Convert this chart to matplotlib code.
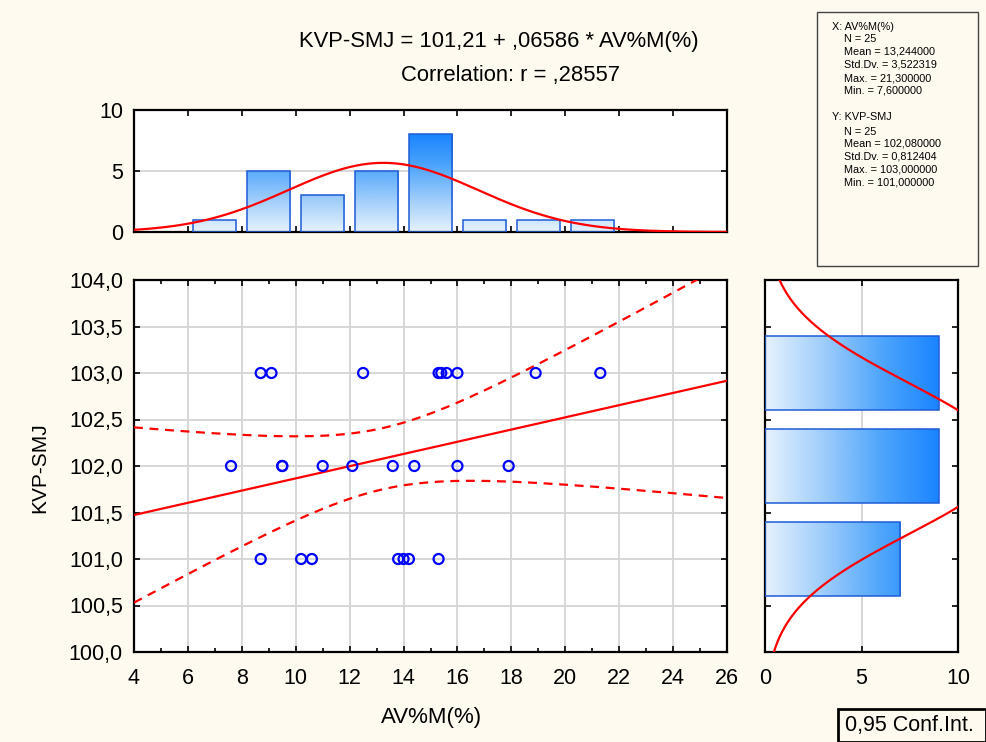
import numpy as np
import matplotlib
matplotlib.use('Agg')
import matplotlib.pyplot as plt
from matplotlib.colors import LinearSegmentedColormap
from matplotlib.patches import Rectangle
from matplotlib.ticker import MultipleLocator

# ---------------- data ----------------
x_y103 = [8.7, 9.1, 12.5, 15.3, 15.4, 15.6, 16.0, 18.9, 21.3]
x_y102 = [7.6, 9.5, 9.5, 11.0, 12.1, 13.6, 14.4, 16.0, 17.9]
x_y101 = [8.7, 10.2, 10.6, 13.8, 14.0, 14.2, 15.3]
y_levels = [103.0, 102.0, 101.0]

x_ticks = [4, 6, 8, 10, 12, 14, 16, 18, 20, 22, 24, 26]
y_ticks = [100.0, 100.5, 101.0, 101.5, 102.0, 102.5, 103.0, 103.5, 104.0]
x_bin_edges = [4, 6, 8, 10, 12, 14, 16, 18, 20, 22, 24, 26]
y_bin_edges = [100.5, 101.5, 102.5, 103.5]

title_line1 = "KVP-SMJ = 101,21 + ,06586 * AV%M(%)"
title_line2 = "Correlation: r = ,28557"
x_label = "AV%M(%)"
y_label = "KVP-SMJ"
stats_x = ["X: AV%M(%)", "N = 25", "Mean = 13,244000", "Std.Dv. = 3,522319",
           "Max. = 21,300000", "Min. = 7,600000"]
stats_y = ["Y: KVP-SMJ", "N = 25", "Mean = 102,080000", "Std.Dv. = 0,812404",
           "Max. = 103,000000", "Min. = 101,000000"]
legend_text = "0,95 Conf.Int."
t_crit = 2.0687  # t(0.975, df=23)

# -------------- derived ---------------
x = np.array(x_y103 + x_y102 + x_y101)
y = np.array([y_levels[0]] * len(x_y103) + [y_levels[1]] * len(x_y102) + [y_levels[2]] * len(x_y101))
n = len(x)
xm, ym = x.mean(), y.mean()
sx, sy = x.std(ddof=1), y.std(ddof=1)
slope, intercept = np.polyfit(x, y, 1)
resid = y - (intercept + slope * x)
s_res = np.sqrt((resid ** 2).sum() / (n - 2))
Sxx = ((x - xm) ** 2).sum()

xe = np.array(x_bin_edges, float)
x_counts = np.bincount(np.searchsorted(xe, x, side='left') - 1, minlength=len(xe) - 1)
ye = np.array(y_bin_edges, float)
y_counts = np.bincount(np.searchsorted(ye, y, side='left') - 1, minlength=len(ye) - 1)

# -------------- figure ----------------
W, H = 986, 742
BG = '#FEFAF0'
plt.rcParams['font.family'] = ['Liberation Sans', 'DejaVu Sans']
fig = plt.figure(figsize=(W / 100, H / 100), dpi=100, facecolor=BG)


def ax_rect(l, t, r, b):
    return [l / W, 1 - b / H, (r - l) / W, (b - t) / H]


def ftext(px, py, s, **kw):
    fig.text(px / W, 1 - py / H, s, **kw)


cmap = LinearSegmentedColormap.from_list('bl', ['#E6F2FE', '#9FCDFB', '#4FA6FB', '#1A84FF'])
edge_col = '#1E5CD6'
FS = 15.5


def style_box(ax):
    for sp in ax.spines.values():
        sp.set_linewidth(1.6)
        sp.set_color('black')
    ax.tick_params(direction='in', length=4, width=1.2, top=True, right=True,
                   labelsize=FS)
    ax.tick_params(axis='y', pad=8)
    ax.tick_params(axis='x', pad=11.5)


# ---- scatter ----
ax = fig.add_axes(ax_rect(134, 280, 727, 652))
style_box(ax)
ax.set_xlim(4, 26)
ax.set_ylim(100, 104)
ax.set_xticks(x_ticks)
ax.xaxis.set_minor_locator(MultipleLocator(1))
ax.tick_params(axis='x', which='minor', direction='in', length=3, width=1.2, top=True)
ax.set_yticks(y_ticks)
ax.set_yticklabels([f"{v:.1f}".replace('.', ',') for v in y_ticks])
ax.grid(True, which='major', color='#D4D4D4', lw=1.3)
ax.set_axisbelow(True)
xx = np.linspace(4, 26, 300)
yfit = intercept + slope * xx
half = t_crit * s_res * np.sqrt(1 / n + (xx - xm) ** 2 / Sxx)
ax.plot(xx, yfit, color='#FF0000', lw=1.6, zorder=3)
ax.plot(xx, yfit + half, color='#FF0000', lw=1.6, ls=(0, (4, 3)), zorder=3)
ax.plot(xx, yfit - half, color='#FF0000', lw=1.6, ls=(0, (4, 3)), zorder=3)
ax.scatter(x, y, s=52, facecolors='none', edgecolors='#0000FF', linewidths=1.6, zorder=4)

# ---- top histogram ----
axt = fig.add_axes(ax_rect(134, 110, 727, 232))
style_box(axt)
axt.set_xlim(4, 26)
axt.set_ylim(0, 10)
axt.set_xticks(x_ticks)
axt.set_xticklabels([])
axt.set_yticks([0, 5, 10])
axt.grid(True, axis='y', color='#D4D4D4', lw=1.3)
axt.set_axisbelow(True)
vmax_t = x_counts.max()
for i, c in enumerate(x_counts):
    if c == 0:
        continue
    w = 0.8 * (xe[i + 1] - xe[i])
    l = xe[i] + 0.1 * (xe[i + 1] - xe[i])
    grad = np.linspace(0, c / vmax_t, 200).reshape(-1, 1)
    im = axt.imshow(grad, cmap=cmap, vmin=0, vmax=1, origin='lower', aspect='auto',
                    extent=[l, l + w, 0, c], zorder=2)
    rect = Rectangle((l, 0), w, c, facecolor='none', edgecolor=edge_col, lw=1.1, zorder=3)
    axt.add_patch(rect)
    im.set_clip_path(rect)
axt.set_xlim(4, 26)
axt.set_ylim(0, 10)
xc = np.linspace(4, 26, 300)
pdf_x = n * 2 * np.exp(-0.5 * ((xc - xm) / sx) ** 2) / (sx * np.sqrt(2 * np.pi))
axt.plot(xc, pdf_x, color='#FF0000', lw=1.6, zorder=4)

# ---- right histogram ----
axr = fig.add_axes(ax_rect(765, 280, 958, 652))
style_box(axr)
axr.set_xlim(0, 10)
axr.set_ylim(100, 104)
axr.set_xticks([0, 5, 10])
axr.set_yticks(y_ticks)
axr.set_yticklabels([])
axr.grid(True, axis='x', color='#D4D4D4', lw=1.3)
axr.set_axisbelow(True)
vmax_r = y_counts.max()
for i, c in enumerate(y_counts):
    if c == 0:
        continue
    h = 0.8 * (ye[i + 1] - ye[i])
    b = ye[i] + 0.1 * (ye[i + 1] - ye[i])
    grad = np.linspace(0, c / vmax_r, 200).reshape(1, -1)
    im = axr.imshow(grad, cmap=cmap, vmin=0, vmax=1, origin='lower', aspect='auto',
                    extent=[0, c, b, b + h], zorder=2)
    rect = Rectangle((0, b), c, h, facecolor='none', edgecolor=edge_col, lw=1.1, zorder=3)
    axr.add_patch(rect)
    im.set_clip_path(rect)
axr.set_xlim(0, 10)
axr.set_ylim(100, 104)
yc = np.linspace(100, 104, 300)
pdf_y = n * 1 * np.exp(-0.5 * ((yc - ym) / sy) ** 2) / (sy * np.sqrt(2 * np.pi))
axr.plot(pdf_y, yc, color='#FF0000', lw=1.6, zorder=4)

# ---- texts ----
ftext(499, 42, title_line1, ha='center', va='center', fontsize=15.8)
ftext(511, 75, title_line2, ha='center', va='center', fontsize=15.8)
ftext(432, 718, x_label, ha='center', va='center', fontsize=16)
ftext(40, 468, y_label, ha='center', va='center', fontsize=15, rotation=90)

# stats box
fig.patches.append(Rectangle((817 / W, 1 - 266 / H), (978 - 817) / W, (266 - 12) / H,
                             transform=fig.transFigure, facecolor=BG, edgecolor='#444444',
                             lw=1.0, zorder=1))
ys = [26.7, 39, 51.7, 64.3, 78.3, 90.7]
for k, s in enumerate(stats_x):
    ftext(832 if k == 0 else 844, ys[k], s, ha='left', va='center', fontsize=7.8)
ys2 = [117.3, 131.7, 144, 156.7, 170, 182.7]
for k, s in enumerate(stats_y):
    ftext(832 if k == 0 else 844, ys2[k], s, ha='left', va='center', fontsize=7.8)

# legend box
fig.patches.append(Rectangle((838 / W, 0), (986 - 838) / W, (742 - 709) / H,
                             transform=fig.transFigure, facecolor=BG, edgecolor='black',
                             lw=2.0, zorder=1))
ftext(845, 726, legend_text, ha='left', va='center', fontsize=15.5)

fig.savefig('out.png', dpi=100, facecolor=BG)
